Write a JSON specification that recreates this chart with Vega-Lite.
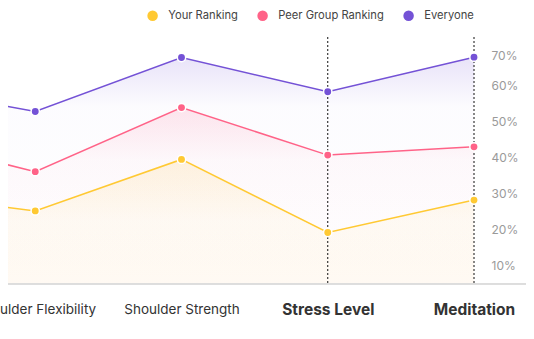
{
  "$schema": "https://vega.github.io/schema/vega-lite/v6.json",
  "width": 518,
  "height": 247,
  "autosize": "none",
  "padding": {"left": 8, "top": 37, "right": 8, "bottom": 55},
  "config": {"view": {"stroke": null}, "font": "Inter"},
  "data": {
    "values": [
      {"category": "Hip Flexibility", "series": "Your Ranking", "value": 30.3},
      {"category": "Shoulder Flexibility", "series": "Your Ranking", "value": 25.3},
      {"category": "Shoulder Strength", "series": "Your Ranking", "value": 39.6},
      {"category": "Stress Level", "series": "Your Ranking", "value": 19.3},
      {"category": "Meditation", "series": "Your Ranking", "value": 28.3},
      {"category": "Hip Flexibility", "series": "Peer Group Ranking", "value": 46.3},
      {"category": "Shoulder Flexibility", "series": "Peer Group Ranking", "value": 36.2},
      {"category": "Shoulder Strength", "series": "Peer Group Ranking", "value": 54.0},
      {"category": "Stress Level", "series": "Peer Group Ranking", "value": 40.8},
      {"category": "Meditation", "series": "Peer Group Ranking", "value": 43.1},
      {"category": "Hip Flexibility", "series": "Everyone", "value": 60.4},
      {"category": "Shoulder Flexibility", "series": "Everyone", "value": 52.9},
      {"category": "Shoulder Strength", "series": "Everyone", "value": 67.9},
      {"category": "Stress Level", "series": "Everyone", "value": 58.4},
      {"category": "Meditation", "series": "Everyone", "value": 68.0}
    ]
  },
  "layer": [
    {
      "transform": [{"filter": "datum.series === 'Your Ranking'"}],
      "mark": {
        "type": "area", "clip": true, "interpolate": "linear",
        "color": {"gradient": "linear", "x1": 0, "y1": 0, "x2": 0, "y2": 1,
          "stops": [{"offset": 0, "color": "rgba(255,201,51,0.15)"}, {"offset": 0.5, "color": "rgba(255,201,51,0.05)"}, {"offset": 1, "color": "rgba(255,190,120,0.09)"}]}
      },
      "encoding": {
        "x": {"field": "category", "type": "ordinal", "sort": null,
          "scale": {"type": "point", "padding": 0, "domain": ["Hip Flexibility", "Shoulder Flexibility", "Shoulder Strength", "Stress Level", "Meditation"], "range": [-119, 466]},
          "axis": {
            "orient": "bottom", "title": null, "domain": false, "ticks": false, "grid": false,
            "labelAngle": 0, "labelPadding": 18, "labelOverlap": false, "labelColor": "#333333",
            "labelFontSize": {"condition": {"test": "datum.value === 'Stress Level' || datum.value === 'Meditation'", "value": 15.5}, "value": 13.5},
            "labelFontWeight": {"condition": {"test": "datum.value === 'Stress Level' || datum.value === 'Meditation'", "value": "bold"}, "value": "normal"}
          }},
        "y": {"field": "value", "type": "quantitative", "stack": null,
          "scale": {"domain": [5, 73.6], "nice": false, "zero": false},
          "axis": {
            "orient": "right", "offset": -35, "title": null, "values": [10, 20, 30, 40, 50, 60, 70],
            "labelExpr": "datum.value + '%'", "domain": false, "ticks": false, "grid": false,
            "labelPadding": 0, "labelAlign": "left", "labelColor": "#9a9a9a", "labelFontSize": 12,
            "labelOffset": {"condition": {"test": "datum.value === 70", "value": 6}, "value": 0}
          }}
      }
    },
    {
      "transform": [{"filter": "datum.series === 'Peer Group Ranking'"}],
      "mark": {
        "type": "area", "clip": true,
        "color": {"gradient": "linear", "x1": 0, "y1": 0, "x2": 0, "y2": 1,
          "stops": [{"offset": 0, "color": "rgba(255,102,140,0.16)"}, {"offset": 0.3, "color": "rgba(255,102,140,0.03)"}, {"offset": 1, "color": "rgba(255,102,140,0)"}]}
      },
      "encoding": {
        "x": {"field": "category", "type": "ordinal", "sort": null},
        "y": {"field": "value", "type": "quantitative", "stack": null}
      }
    },
    {
      "transform": [{"filter": "datum.series === 'Everyone'"}],
      "mark": {
        "type": "area", "clip": true,
        "color": {"gradient": "linear", "x1": 0, "y1": 0, "x2": 0, "y2": 1,
          "stops": [{"offset": 0, "color": "rgba(116,82,214,0.16)"}, {"offset": 0.22, "color": "rgba(116,82,214,0.02)"}, {"offset": 1, "color": "rgba(116,82,214,0)"}]}
      },
      "encoding": {
        "x": {"field": "category", "type": "ordinal", "sort": null},
        "y": {"field": "value", "type": "quantitative", "stack": null}
      }
    },
    {
      "mark": {"type": "rule", "color": "#dddddd", "strokeWidth": 1},
      "encoding": {"y": {"datum": 5, "type": "quantitative"}}
    },
    {
      "transform": [{"filter": "datum.series === 'Everyone' && (datum.category === 'Stress Level' || datum.category === 'Meditation')"}],
      "mark": {"type": "rule", "color": "#111111", "strokeWidth": 1, "strokeDash": [2, 2]},
      "encoding": {
        "x": {"field": "category", "type": "ordinal", "sort": null}
      }
    },
    {
      "mark": {"type": "line", "clip": true, "strokeWidth": 1.5},
      "encoding": {
        "x": {"field": "category", "type": "ordinal", "sort": null},
        "y": {"field": "value", "type": "quantitative", "stack": null},
        "color": {"field": "series", "type": "nominal",
          "scale": {"domain": ["Your Ranking", "Peer Group Ranking", "Everyone"], "range": ["#ffc933", "#ff6388", "#7452d6"]},
          "legend": {
            "orient": "none", "legendX": 139, "legendY": -27, "direction": "horizontal", "title": null,
            "symbolType": "circle", "symbolSize": 110, "symbolStrokeWidth": 0,
            "labelFontSize": 11.2, "labelColor": "#444444", "labelOffset": 10, "columnPadding": 19,
            "encode": {"symbols": {"update": {"fill": {"scale": "color", "field": "value"}, "fillOpacity": {"value": 1}, "strokeWidth": {"value": 0}}}}
          }}
      }
    },
    {
      "mark": {"type": "point", "clip": true, "filled": true, "shape": "circle", "size": 70, "stroke": "white", "strokeWidth": 1.5, "opacity": 1},
      "encoding": {
        "x": {"field": "category", "type": "ordinal", "sort": null},
        "y": {"field": "value", "type": "quantitative", "stack": null},
        "color": {"field": "series", "type": "nominal"}
      }
    }
  ]
}
